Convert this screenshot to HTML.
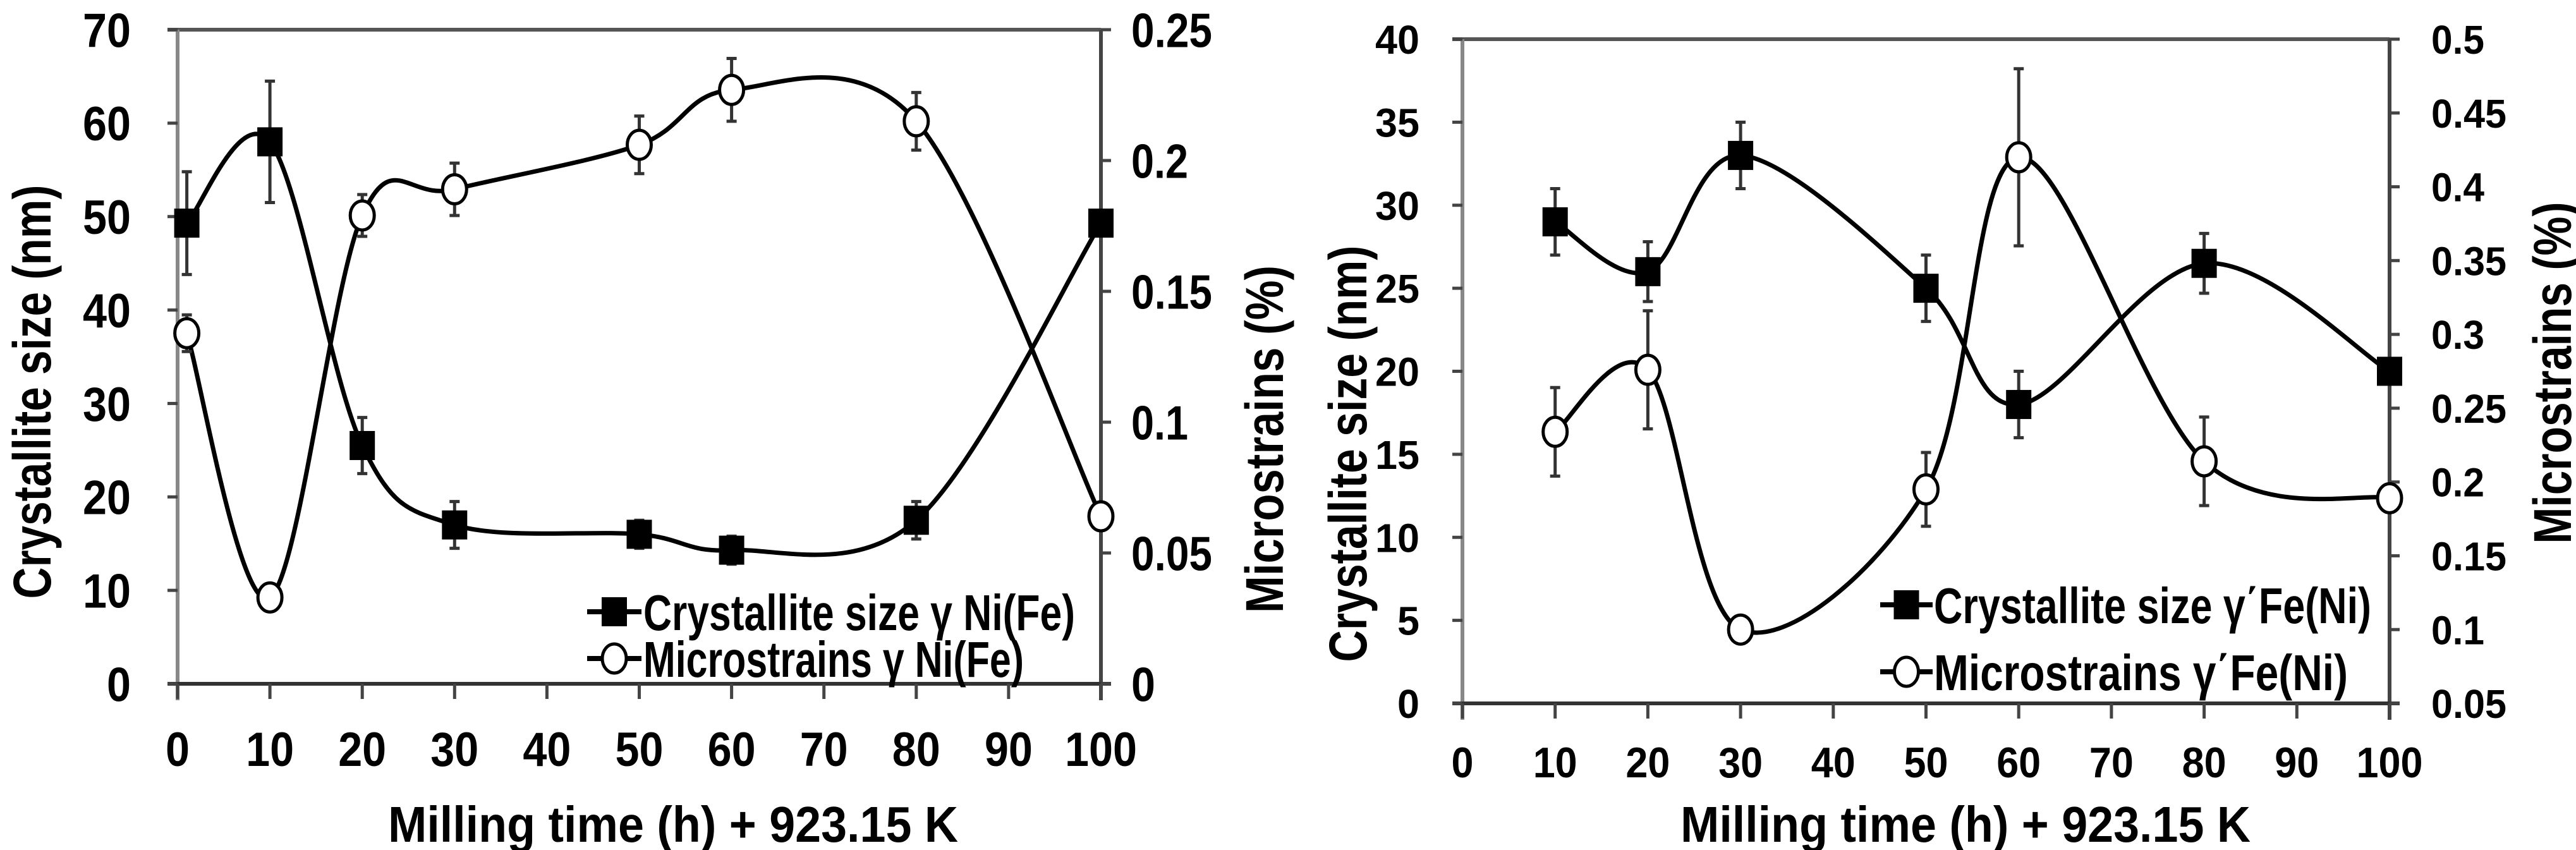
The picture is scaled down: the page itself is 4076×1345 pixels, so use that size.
<!DOCTYPE html>
<html><head><meta charset="utf-8"><style>
html,body{margin:0;padding:0;background:#fff;}
svg{display:block;}
text{font-family:"Liberation Sans",sans-serif;font-weight:bold;fill:#000;}
</style></head>
<body>
<svg id="fig" width="4076" height="1345" viewBox="0 0 4076 1345" xmlns="http://www.w3.org/2000/svg"></svg>
<script>
// ---- Left chart data: gamma Ni(Fe)
const leftX = [1, 10, 20, 30, 50, 60, 80, 100];
const leftSize = [49.3, 58, 25.5, 17, 16, 14.3, 17.5, 49.3];
const leftSizeErr = [5.5, 6.5, 3, 2.5, 1.5, 1.5, 2, 0];
const leftStrain = [0.134, 0.033, 0.179, 0.189, 0.206, 0.227, 0.215, 0.064];
const leftStrainErr = [0.007, 0, 0.008, 0.01, 0.011, 0.012, 0.011, 0];
const leftXTicks = [0,10,20,30,40,50,60,70,80,90,100];
const leftYTicks = [0,10,20,30,40,50,60,70];
const leftY2Ticks = ["0","0.05","0.1","0.15","0.2","0.25"];
// ---- Right chart data: gamma' Fe(Ni)
const rightX = [10, 20, 30, 50, 60, 80, 100];
const rightSize = [29, 26, 33, 25, 18, 26.5, 20];
const rightSizeErr = [2, 1.8, 2, 2, 2, 1.8, 0];
const rightStrain = [0.234, 0.276, 0.1, 0.195, 0.42, 0.214, 0.189];
const rightStrainErr = [0.03, 0.04, 0, 0.025, 0.06, 0.03, 0];
const rightXTicks = [0,10,20,30,40,50,60,70,80,90,100];
const rightYTicks = [0,5,10,15,20,25,30,35,40];
const rightY2Ticks = ["0.05","0.1","0.15","0.2","0.25","0.3","0.35","0.4","0.45","0.5"];

const NS="http://www.w3.org/2000/svg";
const svg=document.getElementById('fig');
function mk(tag,attrs,parent){const e=document.createElementNS(NS,tag);for(const k in attrs)e.setAttribute(k,attrs[k]);(parent||svg).appendChild(e);return e;}
function tlen(s,dw){let n=0;for(const c of s){n+= (c==='.')?14:dw;}return n;}
function txt(str,x,y,size,anchor,len,rot,parent){
  const t=mk('text',{x:x,y:y,'font-size':size,'text-anchor':anchor,textLength:len,lengthAdjust:'spacingAndGlyphs'},parent);
  if(rot)t.setAttribute('transform','rotate('+rot+' '+x+' '+y+')');
  t.textContent=str;return t;
}
function smoothPath(pts){
  let d='M'+pts[0][0]+' '+pts[0][1];
  for(let i=0;i<pts.length-1;i++){
    const p0=pts[i-1]||pts[i],p1=pts[i],p2=pts[i+1],p3=pts[i+2]||pts[i+1];
    const c1=[p1[0]+(p2[0]-p0[0])/6,p1[1]+(p2[1]-p0[1])/6];
    const c2=[p2[0]-(p3[0]-p1[0])/6,p2[1]-(p3[1]-p1[1])/6];
    d+=' C'+c1[0]+' '+c1[1]+' '+c2[0]+' '+c2[1]+' '+p2[0]+' '+p2[1];
  }
  return d;
}

function chart(cfg){
  const g=mk('g',{});
  
  
  const X=v=>cfg.x0+(v-cfg.xmin)/(cfg.xmax-cfg.xmin)*(cfg.x1-cfg.x0);
  const Y=v=>cfg.yb-(v-cfg.ymin)/(cfg.ymax-cfg.ymin)*(cfg.yb-cfg.yt);
  const Y2=v=>cfg.yb-(v-cfg.y2min)/(cfg.y2max-cfg.y2min)*(cfg.yb-cfg.yt);
  // frame
  const fr=mk('g',{stroke:'#444','stroke-width':6,fill:'none'},g);
  
  
  mk('line',{x1:cfg.x0-16,y1:cfg.yt,x2:cfg.x1,y2:cfg.yt,stroke:'#555'},fr);
  mk('line',{x1:cfg.x0,y1:cfg.yt,x2:cfg.x0,y2:cfg.yb+26,stroke:'#888'},fr);
  mk('line',{x1:cfg.x1,y1:cfg.yt,x2:cfg.x1,y2:cfg.yb+26},fr);
  mk('line',{x1:cfg.x0-16,y1:cfg.yb,x2:cfg.x1+16,y2:cfg.yb,stroke:'#333'},fr);
  // x ticks
  cfg.xticks.forEach(v=>{
    mk('line',{x1:X(v),y1:cfg.yb,x2:X(v),y2:cfg.yb+24,stroke:'#444','stroke-width':5},g);
    const t=txt(String(v),X(v),cfg.xlabY,cfg.xfs,'middle',tlen(String(v),cfg.dw),0,g);
    
    
  });
  cfg.yticks.forEach(v=>{
    mk('line',{x1:cfg.x0-16,y1:Y(v),x2:cfg.x0,y2:Y(v),stroke:'#444','stroke-width':5},g);
    const t=txt(String(v),cfg.ylabX,Y(v)+cfg.yfs*0.36,cfg.yfs,'end',tlen(String(v),cfg.dw),0,g);
    
    
  });
  cfg.y2ticks.forEach(s=>{
    const v=parseFloat(s);
    mk('line',{x1:cfg.x1,y1:Y2(v),x2:cfg.x1+16,y2:Y2(v),stroke:'#444','stroke-width':5},g);
    const t=txt(s,cfg.y2labX,Y2(v)+cfg.yfs*0.36,cfg.yfs,'start',tlen(s,cfg.dw),0,g);
    
    
  });
  // titles
  let t=txt('Crystallite size (nm)',cfg.ytX,cfg.ytY,84,'middle',cfg.ytLen,-90,g);
  
  
  t=txt('Microstrains (%)',cfg.y2tX,cfg.y2tY,84,'middle',cfg.y2tLen,-90,g);
  
  
  t=txt('Milling time (h) + 923.15 K',cfg.xtX,1332,80,'middle',902,0,g);
  
  
  // series
  const sp=cfg.xs.map((x,i)=>[X(x),Y(cfg.size[i])]);
  const mp=cfg.xs.map((x,i)=>[X(x),Y2(cfg.strain[i])]);
  const l1=mk('path',{d:smoothPath(sp),fill:'none',stroke:'#000','stroke-width':7},g);
  
  
  const l2=mk('path',{d:smoothPath(mp),fill:'none',stroke:'#000','stroke-width':7},g);
  
  
  cfg.xs.forEach((x,i)=>{
    const e=cfg.sizeErr[i];
    if(e>0){
      const eb=mk('path',{d:'M'+X(x)+' '+Y(cfg.size[i]+e)+'V'+Y(cfg.size[i]-e)+'M'+(X(x)-8)+' '+Y(cfg.size[i]+e)+'h16M'+(X(x)-8)+' '+Y(cfg.size[i]-e)+'h16',stroke:'#333','stroke-width':5,fill:'none'},g);
      
      
    }
    const e2=cfg.strainErr[i];
    if(e2>0){
      const eb=mk('path',{d:'M'+X(x)+' '+Y2(cfg.strain[i]+e2)+'V'+Y2(cfg.strain[i]-e2)+'M'+(X(x)-8)+' '+Y2(cfg.strain[i]+e2)+'h16M'+(X(x)-8)+' '+Y2(cfg.strain[i]-e2)+'h16',stroke:'#333','stroke-width':5,fill:'none'},g);
      
      
    }
  });
  cfg.xs.forEach((x,i)=>{
    const r=mk('rect',{x:X(x)-20,y:Y(cfg.size[i])-23,width:40,height:46,fill:'#000'},g);
    
    
    const c=mk('ellipse',{cx:X(x),cy:Y2(cfg.strain[i]),rx:19,ry:23,fill:'#fff',stroke:'#000','stroke-width':5},g);
    
    
  });
  // legend
  const lg=mk('g',{},g);
  
  
  const L=cfg.leg;
  const e1=mk('g',{},lg);
  
  
  mk('line',{x1:L.mx0,y1:L.r1,x2:L.mx1,y2:L.r1,stroke:'#000','stroke-width':8},e1);
  mk('rect',{x:(L.mx0+L.mx1)/2-20,y:L.r1-23,width:40,height:46,fill:'#000'},e1);
  txt(L.t1,L.tx,L.r1+29,80,'start',L.w1,0,e1);
  const e2=mk('g',{},lg);
  
  
  mk('line',{x1:L.mx0,y1:L.r2,x2:L.mx1,y2:L.r2,stroke:'#000','stroke-width':8},e2);
  mk('ellipse',{cx:(L.mx0+L.mx1)/2,cy:L.r2,rx:19,ry:23,fill:'#fff',stroke:'#000','stroke-width':5},e2);
  txt(L.t2,L.tx,L.r2+29,80,'start',L.w2,0,e2);
}

chart({name:'left-chart',x0:281,x1:1742,xmin:0,xmax:100,yt:47,yb:1082,ymin:0,ymax:70,y2min:0,y2max:0.25,
  xs:leftX,size:leftSize,sizeErr:leftSizeErr,strain:leftStrain,strainErr:leftStrainErr,
  xticks:leftXTicks,yticks:leftYTicks,y2ticks:leftY2Ticks,dw:38,xfs:76,yfs:76,xlabY:1212,ylabX:207,y2labX:1790,
  ytX:80,ytY:620,ytLen:655,y2tX:2030,y2tY:695,y2tLen:550,xtX:1065,
  leg:{mx0:929,mx1:1015,tx:1018,r1:968,r2:1042,t1:'Crystallite size  γ Ni(Fe)',t2:'Microstrains γ Ni(Fe)',w1:683,w2:602}});
chart({name:'right-chart',x0:2314,x1:3781,xmin:0,xmax:100,yt:62,yb:1113,ymin:0,ymax:40,y2min:0.05,y2max:0.5,
  xs:rightX,size:rightSize,sizeErr:rightSizeErr,strain:rightStrain,strainErr:rightStrainErr,
  xticks:rightXTicks,yticks:rightYTicks,y2ticks:rightY2Ticks,dw:35,xfs:68,yfs:64,xlabY:1230,ylabX:2246,y2labX:3847,
  ytX:2162,ytY:718,ytLen:659,y2tX:4068,y2tY:590,y2tLen:541,xtX:3110,
  leg:{mx0:2975,mx1:3058,tx:3060,r1:957,r2:1063,t1:'Crystallite size   γ΄Fe(Ni)',t2:'Microstrains   γ΄Fe(Ni)',w1:692,w2:655}});
</script>
</body></html>
